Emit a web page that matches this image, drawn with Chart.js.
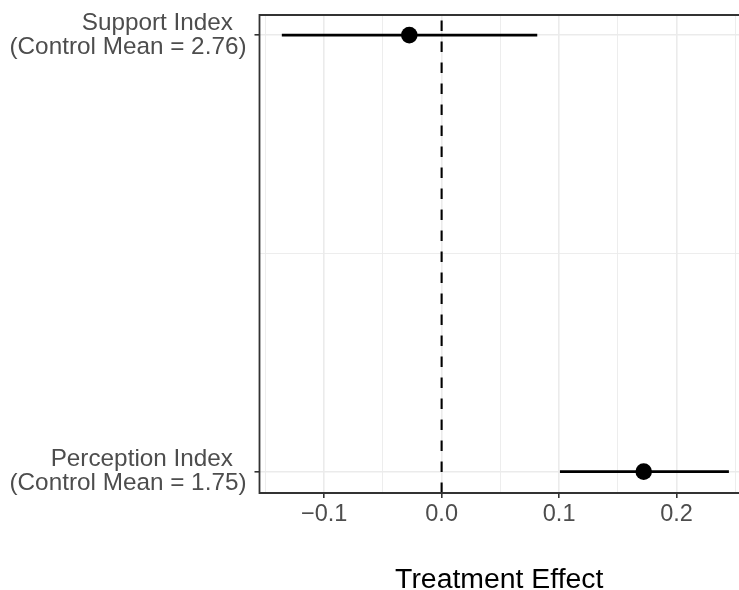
<!DOCTYPE html>
<html>
<head>
<meta charset="utf-8">
<script src="https://cdn.jsdelivr.net/npm/chart.js@4.4.1/dist/chart.umd.min.js"></script>
<style>
  html, body { margin: 0; padding: 0; background: #fff; }
  #wrap { width: 739px; height: 590px; }
</style>
</head>
<body>
<div id="wrap"><canvas id="effects" width="739" height="590"></canvas></div>
<script>
// Outcomes (bottom to top), point estimates and 95% CI ends.
const outcomes = [
  ['Perception Index  ', '(Control Mean = 1.75)'],
  ['Support Index  ', '(Control Mean = 2.76)'],
];
const outcomeY = [1, 2];
const estimates = [0.172, -0.0275];
const ciLow = [0.1007, -0.136];
const ciHigh = [0.2445, 0.0814];

const xTicks = [-0.15, -0.1, -0.05, 0, 0.05, 0.1, 0.15, 0.2, 0.25];
const xMajor = [-0.1, 0, 0.1, 0.2];
const xTickLabels = ['\u22120.1', '0.0', '0.1', '0.2'];
const yTicks = [1, 1.5, 2];
const xRange = [-0.155, 0.2531];
const yRange = [0.951, 2.046];

const FONT = "'Liberation Sans', Arial, Helvetica, sans-serif";
const same = (a, b) => Math.abs(a - b) < 1e-9;
const majorX = (v) => xMajor.findIndex((m) => same(m, v));
const majorY = (v) => outcomeY.findIndex((m) => same(m, v));

const datasets = [];
// dashed zero line, drawn bottom to top like ggplot
datasets.push({
  data: [{ x: 0, y: yRange[0] }, { x: 0, y: yRange[1] }],
  showLine: true, borderColor: '#000', borderWidth: 2.1, borderDash: [10.5, 10.5],
  pointRadius: 0, fill: false,
});
outcomeY.forEach((y, i) => {
  datasets.push({
    data: [{ x: ciLow[i], y }, { x: ciHigh[i], y }],
    showLine: true, borderColor: '#000', borderWidth: 2.6,
    pointRadius: 0, fill: false,
  });
});
datasets.push({
  data: outcomeY.map((y, i) => ({ x: estimates[i], y })),
  showLine: false, pointRadius: 8.3, pointBackgroundColor: '#000',
  pointBorderWidth: 0, pointHoverRadius: 8.3,
});

const panelBorder = {
  id: 'panelBorder',
  afterDatasetsDraw(chart) {
    const { ctx, chartArea: a } = chart;
    ctx.save();
    ctx.strokeStyle = '#333333';
    ctx.lineWidth = 1.8;
    ctx.beginPath();
    ctx.moveTo(a.right + 2, a.top);
    ctx.lineTo(a.left, a.top);
    ctx.lineTo(a.left, a.bottom);
    ctx.lineTo(a.right + 2, a.bottom);
    ctx.stroke();
    ctx.restore();
  },
};

new Chart(document.getElementById('effects').getContext('2d'), {
  type: 'scatter',
  data: { datasets },
  plugins: [panelBorder],
  options: {
    responsive: false,
    animation: false,
    devicePixelRatio: 1,
    layout: { autoPadding: false, padding: { top: 15, left: 0, right: 0, bottom: 0 } },
    plugins: { legend: { display: false }, tooltip: { enabled: false } },
    scales: {
      x: {
        type: 'linear',
        min: xRange[0], max: xRange[1],
        afterFit: (s) => { s.height = 97; s.paddingLeft = 0; s.paddingRight = 0; },
        afterBuildTicks: (s) => { s.ticks = xTicks.map((v) => ({ value: v })); },
        border: { display: false },
        grid: {
          color: '#EBEBEB',
          lineWidth: (c) => (majorX(c.tick.value) >= 0 ? 1.6 : 0.9),
          tickColor: (c) => (majorX(c.tick.value) >= 0 ? '#333333' : 'rgba(0,0,0,0)'),
          tickWidth: 1.6,
          tickLength: 5,
        },
        ticks: {
          autoSkip: false, maxRotation: 0, padding: 2,
          color: '#4D4D4D',
          font: { family: FONT, size: 23.5 },
          callback: (v) => { const i = majorX(v); return i >= 0 ? xTickLabels[i] : ''; },
        },
        title: {
          display: true, text: 'Treatment Effect', color: '#000',
          font: { family: FONT, size: 28.4, lineHeight: 0.7 },
          padding: { top: 0, bottom: 0 },
        },
      },
      y: {
        type: 'linear',
        min: yRange[0], max: yRange[1],
        afterFit: (s) => { s.width = 259.5; s.paddingTop = 0; s.paddingBottom = 0; },
        afterBuildTicks: (s) => { s.ticks = yTicks.map((v) => ({ value: v })); },
        border: { display: false },
        grid: {
          color: '#EBEBEB',
          lineWidth: (c) => (majorY(c.tick.value) >= 0 ? 1.6 : 0.9),
          tickColor: (c) => (majorY(c.tick.value) >= 0 ? '#333333' : 'rgba(0,0,0,0)'),
          tickWidth: 1.6,
          tickLength: 5,
        },
        ticks: {
          autoSkip: false, padding: 8,
          color: '#4D4D4D',
          font: { family: FONT, size: 24.3, lineHeight: 1.0 },
          callback: (v) => { const i = majorY(v); return i >= 0 ? outcomes[i] : ''; },
        },
      },
    },
  },
});
</script>
</body>
</html>
